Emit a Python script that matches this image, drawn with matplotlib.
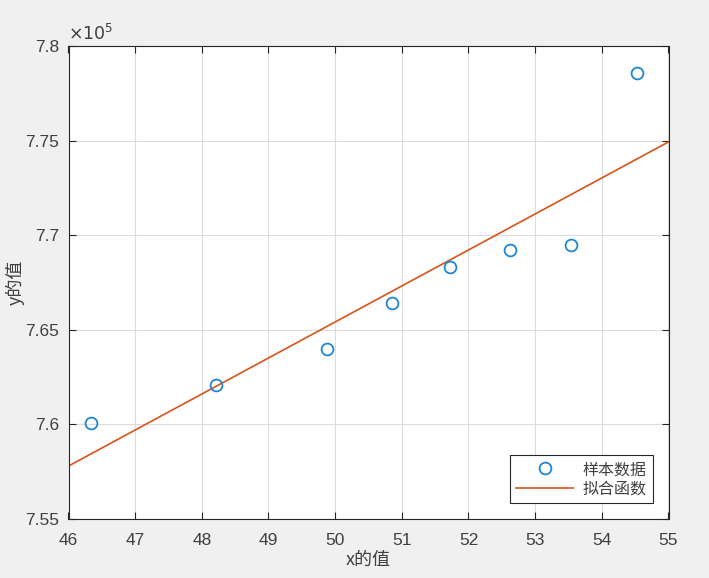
import matplotlib
matplotlib.use("Agg")
import matplotlib.pyplot as plt
import numpy as np

x_data = [46.34, 48.21, 49.88, 50.85, 51.72, 52.62, 53.54, 54.53]
y_data = [7.6007e5, 7.6208e5, 7.6398e5, 7.6642e5, 7.6832e5, 7.6922e5, 7.6948e5, 7.7857e5]
fit_x = [46, 55]
fit_y = [7.578e5, 7.7493e5]
x_ticks = [46, 47, 48, 49, 50, 51, 52, 53, 54, 55]
y_ticks = [7.55, 7.6, 7.65, 7.7, 7.75, 7.8]

plt.rcParams['font.family'] = ['Liberation Sans', 'Noto Sans CJK SC', 'DejaVu Sans']
tc = '#262626'
lc = '#404040'

fig = plt.figure(figsize=(7.09, 5.78), dpi=100, facecolor='#f0f0f0')
ax = fig.add_axes([68.5/709, 1-519/578, 600/709, 473/578])
ax.set_facecolor('white')

ax.plot(x_data, y_data, 'o', mfc='none', mec='#1f86d0', ms=8.5, mew=1.3, label='样本数据', zorder=3)
ax.plot(fit_x, fit_y, '-', color='#D95319', lw=1.2, label='拟合函数', zorder=2)

ax.set_xlim(46, 55)
ax.set_ylim(7.55e5, 7.8e5)
ax.set_xticks(x_ticks)
ax.set_yticks([v*1e5 for v in y_ticks])
ax.set_yticklabels([f'{v:g}' for v in y_ticks])
ax.grid(True, color='#dcdcdc', lw=0.8)
ax.set_axisbelow(True)
ax.tick_params(direction='in', top=True, right=True, length=5, width=0.8, colors=tc,
               labelcolor=lc, labelsize=12.5)
ax.tick_params(axis='x', pad=10)
ax.tick_params(axis='y', pad=7)
for s in ax.spines.values():
    s.set_color(tc)
    s.set_linewidth(0.8)

ax.text(0.0, 1.005, r'$\times10^5$', transform=ax.transAxes, fontsize=12.5, color=lc,
        ha='left', va='bottom', family='DejaVu Sans')

ax.set_xlabel('x的值', fontsize=13, color=lc, family=['Noto Sans CJK SC', 'DejaVu Sans'], labelpad=2)
ax.set_ylabel('y的值', fontsize=13, color=lc, family=['Noto Sans CJK SC', 'DejaVu Sans'], labelpad=0)

leg = ax.legend(loc='lower right', prop={'family': ['Noto Sans CJK SC', 'DejaVu Sans'], 'size': 11.5},
                fancybox=False, framealpha=1, edgecolor=tc, borderpad=0.35, handlelength=3.6,
                labelspacing=0.15, borderaxespad=1.0, handletextpad=0.6)
leg.get_frame().set_linewidth(0.8)
for t in leg.get_texts():
    t.set_color(lc)

fig.savefig('out.png', dpi=100, facecolor=fig.get_facecolor())
